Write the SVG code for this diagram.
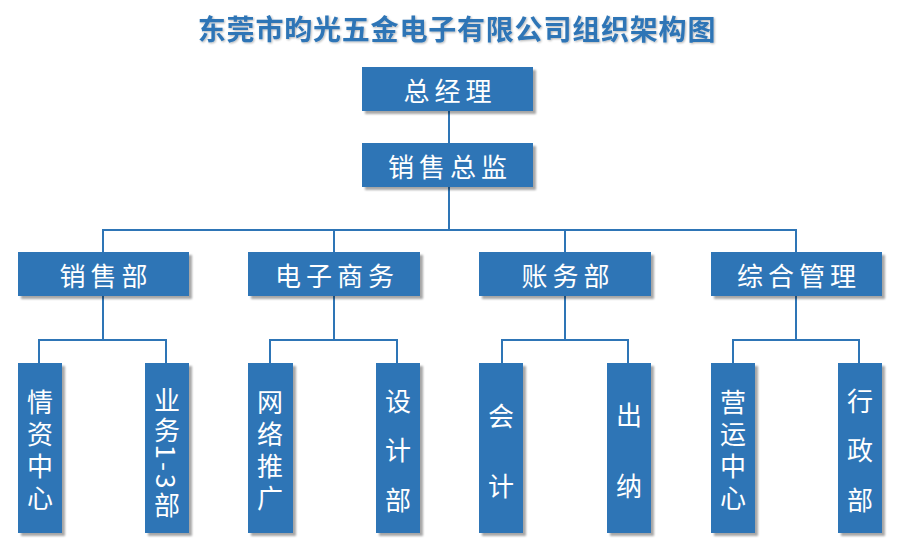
<svg xmlns="http://www.w3.org/2000/svg" width="900" height="549" viewBox="0 0 900 549">
<defs>
<filter id="sh" x="-20%" y="-20%" width="140%" height="140%">
<feGaussianBlur in="SourceAlpha" stdDeviation="1.2"/>
<feOffset dx="3" dy="3" result="o"/>
<feComponentTransfer><feFuncA type="linear" slope="0.35"/></feComponentTransfer>
<feMerge><feMergeNode/><feMergeNode in="SourceGraphic"/></feMerge>
</filter>
<filter id="tsh" x="-5%" y="-20%" width="110%" height="140%">
<feGaussianBlur in="SourceAlpha" stdDeviation="0.8"/>
<feOffset dx="1" dy="1"/>
<feComponentTransfer><feFuncA type="linear" slope="0.3"/></feComponentTransfer>
<feMerge><feMergeNode/><feMergeNode in="SourceGraphic"/></feMerge>
</filter>
</defs>
<style>
.box{fill:#2E75B6;filter:url(#sh)}
.t{fill:#fff;font-family:"Noto Sans CJK SC","Noto Sans",sans-serif;font-size:26px;text-anchor:middle;dominant-baseline:central;letter-spacing:5px}
.v{fill:#fff;font-family:"Noto Sans CJK SC","Noto Sans",sans-serif;font-size:26px;writing-mode:vertical-rl;text-orientation:mixed}
.r{fill:#fff;font-family:"Noto Sans CJK SC","Noto Sans",sans-serif;font-size:26px;text-anchor:middle;dominant-baseline:central;letter-spacing:3px}
.ln{fill:none;stroke:#2E75B6;stroke-width:2}
.title{fill:#2E75B6;font-family:"Noto Sans CJK SC",sans-serif;font-weight:bold;font-size:28px;text-anchor:middle;letter-spacing:0.8px;filter:url(#tsh)}
</style>
<rect width="900" height="549" fill="#fff"/>
<text class="title" x="457" y="40">东莞市昀光五金电子有限公司组织架构图</text>
<g id="connectors">
<path class="ln" d="M449 110V143"/>
<path class="ln" d="M449 187V230M103 252V230H796V252M334 230V252M565 230V252"/>
<path class="ln" d="M103 296V340M39 363V340H166V363"/>
<path class="ln" d="M334 296V340M270 363V340H397V363"/>
<path class="ln" d="M565 296V340M502 363V340H628V363"/>
<path class="ln" d="M796 296V340M733 363V340H859V363"/>
</g>
<g id="n-zjl"><rect class="box" x="362" y="67" width="171" height="44"/><text class="t" x="450" y="89">总经理</text></g>
<g id="n-xszj"><rect class="box" x="362" y="143" width="171" height="44"/><text class="t" x="450" y="165">销售总监</text></g>
<g id="n-xsb"><rect class="box" x="18" y="252" width="171" height="44"/><text class="t" x="106" y="274">销售部</text></g>
<g id="n-dzsw"><rect class="box" x="248" y="252" width="172" height="44"/><text class="t" x="337" y="274">电子商务</text></g>
<g id="n-zwb"><rect class="box" x="479" y="252" width="172" height="44"/><text class="t" x="568" y="274">账务部</text></g>
<g id="n-zhgl"><rect class="box" x="711" y="252" width="171" height="44"/><text class="t" x="799" y="274">综合管理</text></g>
<g id="n-qzzx"><rect class="box" x="18" y="363" width="44" height="170"/>
<text class="v" x="40" y="389" style="letter-spacing:6px">情资中心</text></g>
<g id="n-yw13"><rect class="box" x="145" y="363" width="44" height="170"/>
<text class="v" x="167" y="387" style="letter-spacing:4px">业务</text>
<text class="r" transform="translate(167 468) rotate(90)">1-3</text>
<text class="v" x="167" y="492">部</text></g>
<g id="n-wltg"><rect class="box" x="248" y="363" width="45" height="170"/>
<text class="v" x="270" y="389" style="letter-spacing:6px">网络推广</text></g>
<g id="n-sjb"><rect class="box" x="376" y="363" width="44" height="170"/>
<text class="v" x="398" y="388" style="letter-spacing:23.5px">设计部</text></g>
<g id="n-kj"><rect class="box" x="479" y="363" width="44" height="170"/>
<text class="v" x="501" y="403" style="letter-spacing:44px">会计</text></g>
<g id="n-cn"><rect class="box" x="607" y="363" width="44" height="170"/>
<text class="v" x="629" y="402" style="letter-spacing:45px">出纳</text></g>
<g id="n-yyzx"><rect class="box" x="711" y="363" width="44" height="170"/>
<text class="v" x="733" y="389" style="letter-spacing:6px">营运中心</text></g>
<g id="n-xzb"><rect class="box" x="838" y="363" width="44" height="170"/>
<text class="v" x="860" y="388" style="letter-spacing:23.5px">行政部</text></g>
</svg>
